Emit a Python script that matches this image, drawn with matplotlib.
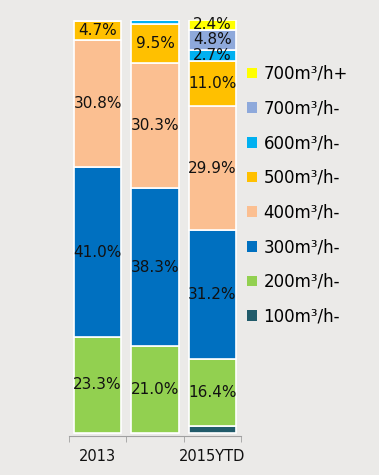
import matplotlib.pyplot as plt
from matplotlib.patches import Patch

# data (share of sales, %)
years = ['2013', '', '2015YTD']
series = ['100m³/h-', '200m³/h-', '300m³/h-', '400m³/h-', '500m³/h-',
          '600m³/h-', '700m³/h-', '700m³/h+']
v100 = [0.0, 0.0, 1.6]
v200 = [23.3, 21.0, 16.4]
v300 = [41.0, 38.3, 31.2]
v400 = [30.8, 30.3, 29.9]
v500 = [4.7, 9.5, 11.0]
v600 = [0.0, 0.9, 2.7]
v700m = [0.0, 0.0, 4.8]
v700p = [0.0, 0.0, 2.4]
values = [v100, v200, v300, v400, v500, v600, v700m, v700p]
colors = ['#215B6A', '#92D050', '#0070C0', '#FBBF91', '#FFC000',
          '#00B0F0', '#8EA9DB', '#FFFF00']

fig = plt.figure(figsize=(3.79, 4.75), dpi=100, facecolor='#EBEAE8')
ax = fig.add_axes([0.182, 0.082, 0.454, 0.876])
ax.set_facecolor('none')

x = range(len(years))
bottom = [0.0, 0.0, 0.0]
for name, vals, c in zip(series, values, colors):
    bars = ax.bar(x, vals, width=0.82, bottom=bottom, color=c,
                  edgecolor='white', linewidth=1.2)
    for i, v in enumerate(vals):
        if v >= 2:
            ax.text(i, bottom[i] + v / 2, f'{v:.1f}%', ha='center', va='center',
                    fontsize=11, color='#111111')
    bottom = [b + v for b, v in zip(bottom, vals)]

ax.set_xlim(-0.5, 2.5)
ax.set_ylim(-0.75, 100)
ax.set_yticks([])
ax.set_xticks(list(x))
ax.set_xticklabels(years, fontsize=10.5, color='#111111')
ax.tick_params(axis='x', length=0, pad=9)
ax.set_xticks([-0.5, 0.5, 1.5, 2.5], minor=True)
ax.tick_params(axis='x', which='minor', length=4, color='#a0a0a0')
for s in ['top', 'right', 'left']:
    ax.spines[s].set_visible(False)
ax.spines['bottom'].set_color('#a0a0a0')

handles = [Patch(facecolor=c, edgecolor='none') for c in colors][::-1]
fig.legend(handles, series[::-1], loc='upper left', bbox_to_anchor=(0.612, 0.895),
           frameon=False, fontsize=12, labelspacing=1.0, handlelength=0.6,
           handleheight=0.6, handletextpad=0.4)

plt.savefig('out.png', dpi=100, facecolor=fig.get_facecolor())
